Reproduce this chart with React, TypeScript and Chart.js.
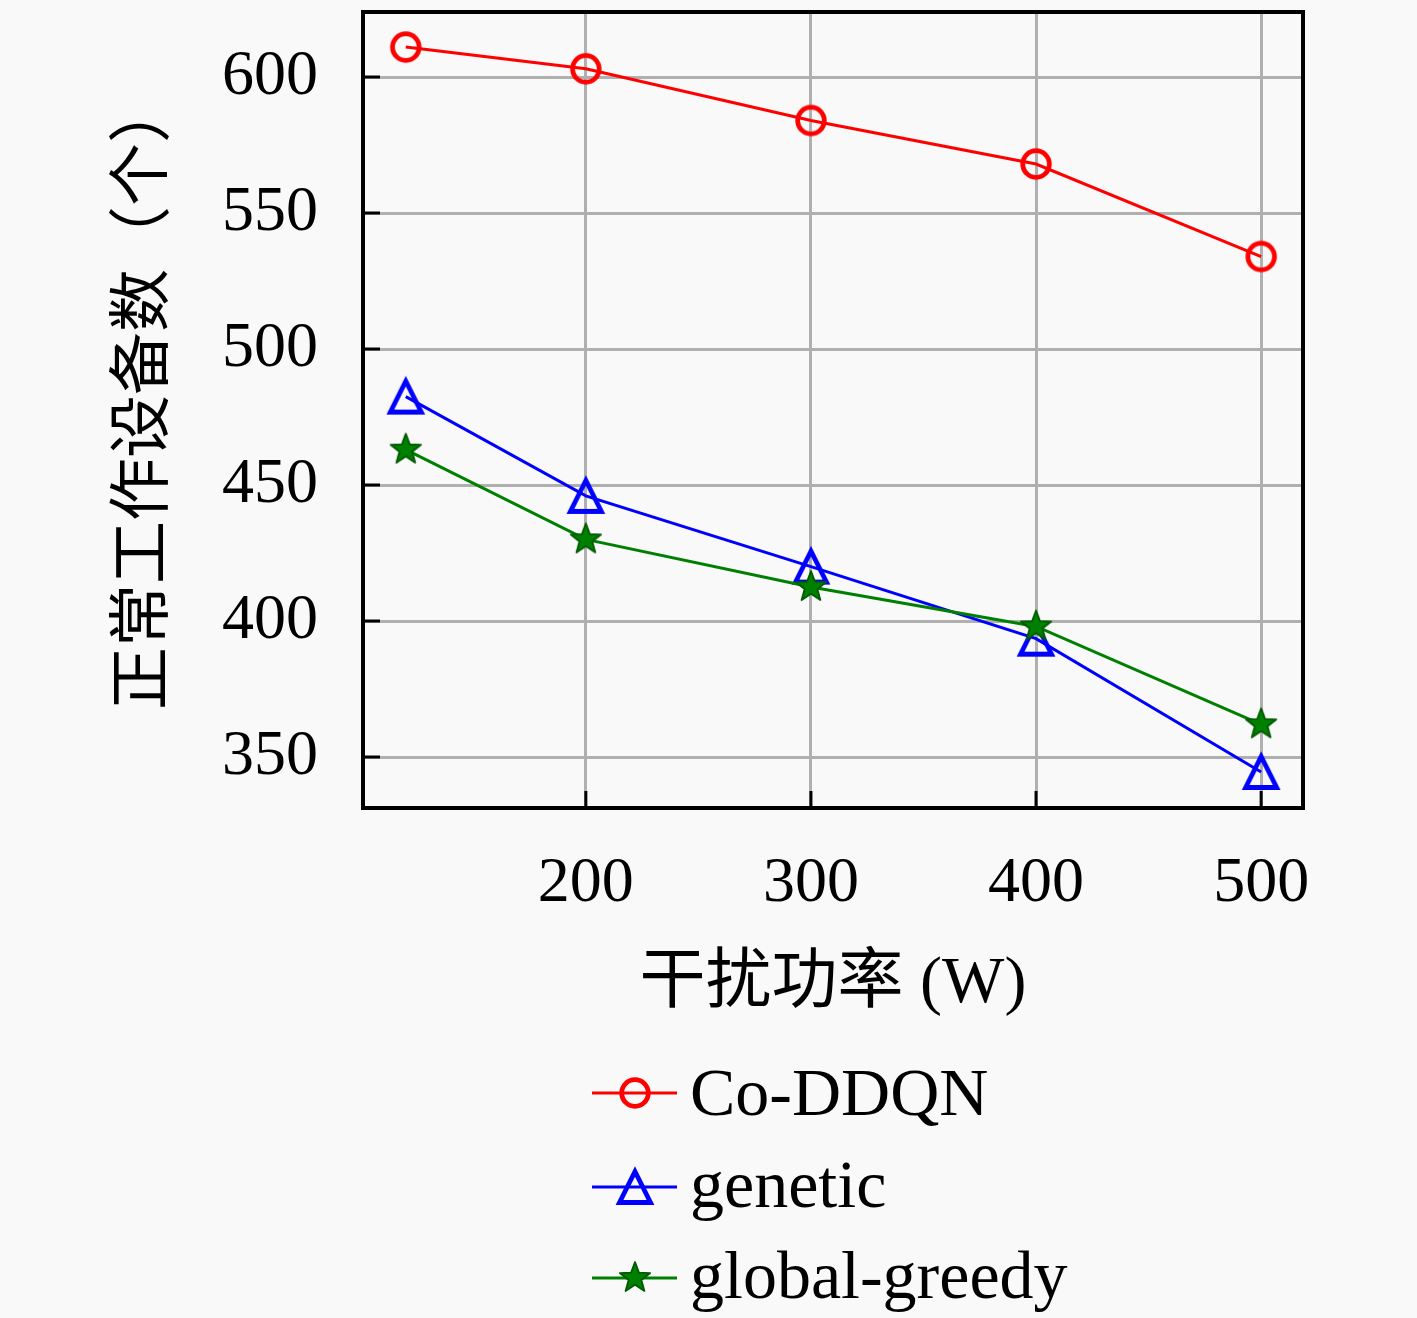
import React, { useEffect, useRef } from "react";
import { Chart, registerables } from "chart.js";

Chart.register(...registerables);

const xValues = [120, 200, 300, 400, 500];
const coDDQN = [611, 603, 584, 568, 534];
const genetic = [482.5, 446, 420, 393.5, 344.5];
const globalGreedy = [463, 430, 412.5, 398, 362];
const xTicks = [200, 300, 400, 500];
const yTicks = [350, 400, 450, 500, 550, 600];
const seriesLabels = ["Co-DDQN", "genetic", "global-greedy"];
const seriesColors = ["#ff0000", "#0000ff", "#008000"];
const xTitle = "干扰功率 (W)";
const yTitle = "正常工作设备数（个）";

const W = 1417;
const H = 1318;
const BG = "#f9f9f9";
const SERIF = '"Liberation Serif", "Noto Sans CJK SC", serif';

function makeCanvas(size: number) {
  const c = document.createElement("canvas");
  c.width = size;
  c.height = size;
  return c;
}

function makeCircle() {
  const c = makeCanvas(40);
  const ctx = c.getContext("2d")!;
  ctx.strokeStyle = "#ff0000";
  ctx.lineWidth = 4.8;
  ctx.beginPath();
  ctx.arc(20, 20, 13.3, 0, Math.PI * 2);
  ctx.stroke();
  return c;
}

function makeTriangle() {
  const c = makeCanvas(56);
  const ctx = c.getContext("2d")!;
  const m = 28;
  const h = 15.5;
  ctx.strokeStyle = "#0000ff";
  ctx.lineWidth = 4.8;
  ctx.lineJoin = "miter";
  ctx.beginPath();
  ctx.moveTo(m, m - h);
  ctx.lineTo(m - h, m + h);
  ctx.lineTo(m + h, m + h);
  ctx.closePath();
  ctx.stroke();
  return c;
}

function makeStar() {
  const c = makeCanvas(40);
  const ctx = c.getContext("2d")!;
  const m = 20;
  const R = 16;
  const r = R * 0.42;
  ctx.beginPath();
  for (let i = 0; i < 10; i++) {
    const rad = i % 2 === 0 ? R : r;
    const a = -Math.PI / 2 + (i * Math.PI) / 5;
    const px = m + rad * Math.cos(a);
    const py = m + rad * Math.sin(a);
    if (i === 0) ctx.moveTo(px, py);
    else ctx.lineTo(px, py);
  }
  ctx.closePath();
  ctx.fillStyle = "#008000";
  ctx.fill();
  ctx.strokeStyle = "#005a00";
  ctx.lineWidth = 1.8;
  ctx.lineJoin = "round";
  ctx.stroke();
  return c;
}

export default function App() {
  const ref = useRef<HTMLCanvasElement | null>(null);

  useEffect(() => {
    document.body.style.margin = "0";
    document.body.style.background = BG;
    const canvas = ref.current!;
    const markers = [makeCircle(), makeTriangle(), makeStar()];
    const seriesValues = [coDDQN, genetic, globalGreedy];

    const bgPlugin = {
      id: "bg",
      beforeDraw(chart: any) {
        const ctx = chart.ctx;
        ctx.save();
        ctx.fillStyle = BG;
        ctx.fillRect(0, 0, chart.width, chart.height);
        ctx.restore();
      },
    };

    const decorPlugin = {
      id: "decor",
      afterDraw(chart: any) {
        const ctx = chart.ctx;
        const a = chart.chartArea;
        const xs = chart.scales.x;
        const ys = chart.scales.y;
        ctx.save();
        // inward ticks
        ctx.strokeStyle = "#000";
        ctx.lineWidth = 3;
        xTicks.forEach((v) => {
          const px = xs.getPixelForValue(v);
          ctx.beginPath();
          ctx.moveTo(px, a.bottom);
          ctx.lineTo(px, a.bottom - 17);
          ctx.stroke();
        });
        yTicks.forEach((v) => {
          const py = ys.getPixelForValue(v);
          ctx.beginPath();
          ctx.moveTo(a.left, py);
          ctx.lineTo(a.left + 17, py);
          ctx.stroke();
        });
        // frame
        ctx.lineWidth = 4;
        ctx.strokeRect(a.left, a.top, a.right - a.left, a.bottom - a.top);

        // axis titles
        ctx.fillStyle = "#000";
        ctx.font = `66px ${SERIF}`;
        ctx.textAlign = "center";
        ctx.textBaseline = "middle";
        ctx.fillText(xTitle, (a.left + a.right) / 2, 985);

        ctx.save();
        ctx.translate(145, 395);
        ctx.rotate(-Math.PI / 2);
        ctx.font = `63px ${SERIF}`;
        ctx.fillText(yTitle, 0, 0);
        ctx.restore();

        // legend
        const rowsLine = [1093, 1187, 1278];
        const rowsBase = [1115, 1207, 1298];
        chart.data.datasets.forEach((ds: any, i: number) => {
          const y = rowsLine[i];
          ctx.strokeStyle = ds.borderColor;
          ctx.lineWidth = ds.borderWidth;
          ctx.beginPath();
          ctx.moveTo(592, y);
          ctx.lineTo(677, y);
          ctx.stroke();
          const mk = ds.pointStyle as HTMLCanvasElement;
          ctx.drawImage(mk, 635 - mk.width / 2, y - mk.height / 2);
          ctx.fillStyle = "#000";
          ctx.font = `68px ${SERIF}`;
          ctx.textAlign = "left";
          ctx.textBaseline = "alphabetic";
          ctx.fillText(ds.label, 690, rowsBase[i]);
        });
        ctx.restore();
      },
    };

    const chart = new Chart(canvas, {
      type: "line",
      data: {
        datasets: seriesLabels.map((label, i) => ({
          label,
          data: xValues.map((x, j) => ({ x, y: seriesValues[i][j] })),
          borderColor: seriesColors[i],
          backgroundColor: "transparent",
          borderWidth: 3,
          pointStyle: markers[i] as any,
          pointRadius: 15,
          pointHoverRadius: 15,
          tension: 0,
          fill: false,
          order: 2 - i,
        })),
      },
      options: {
        animation: false,
        responsive: false,
        devicePixelRatio: 1,
        events: [],
        layout: { autoPadding: false, padding: { left: 0, top: 12, right: 114, bottom: 0 } },
        plugins: {
          legend: { display: false },
          tooltip: { enabled: false },
        },
        scales: {
          x: {
            type: "linear",
            min: 101,
            max: 518.6,
            afterBuildTicks: (s: any) => {
              s.ticks = xTicks.map((v) => ({ value: v }));
            },
            afterFit: (s: any) => {
              s.height = H - 808;
              s.paddingLeft = 0;
              s.paddingRight = 0;
            },
            grid: { color: "#b0b0b0", lineWidth: 3, drawTicks: false },
            border: { display: false },
            ticks: {
              padding: 38,
              color: "#000",
              maxRotation: 0,
              autoSkip: false,
              font: { family: SERIF, size: 64 },
            },
          },
          y: {
            type: "linear",
            min: 331.25,
            max: 623.9,
            afterBuildTicks: (s: any) => {
              s.ticks = yTicks.map((v) => ({ value: v }));
            },
            afterFit: (s: any) => {
              s.width = 363;
              s.paddingTop = 0;
              s.paddingBottom = 0;
            },
            grid: { color: "#b0b0b0", lineWidth: 3, drawTicks: false },
            border: { display: false },
            ticks: {
              padding: 45,
              color: "#000",
              autoSkip: false,
              font: { family: SERIF, size: 64 },
            },
          },
        },
      },
      plugins: [bgPlugin, decorPlugin],
    });
    return () => chart.destroy();
  }, []);

  return (
    <div style={{ position: "absolute", left: 0, top: 0, width: W, height: H }}>
      <canvas ref={ref} width={W} height={H} style={{ width: W, height: H, display: "block" }} />
    </div>
  );
}
